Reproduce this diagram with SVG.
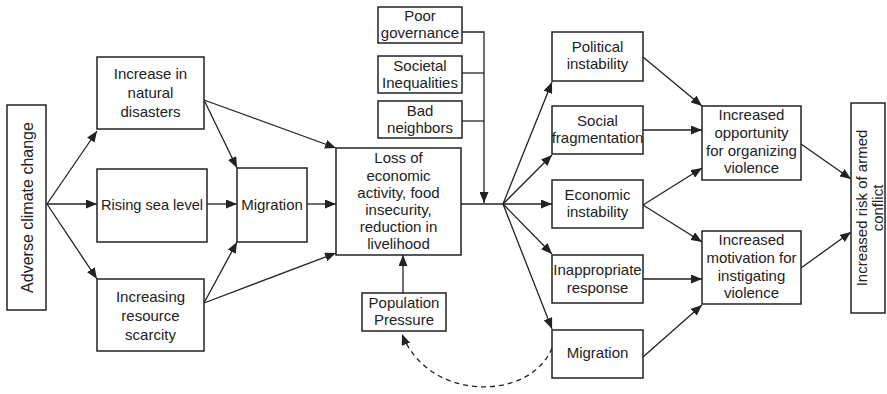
<svg xmlns="http://www.w3.org/2000/svg" width="887" height="394" viewBox="0 0 887 394">
  <style>
    .box { fill: #fff; stroke: #222; stroke-width: 1.5; }
    .lbl { font-family: "Liberation Sans", Arial, sans-serif; font-size: 15px; fill: #222; text-anchor: middle; }
    .edge { fill: none; stroke: #222; stroke-width: 1.3; }
    .arr { marker-end: url(#head); }
    .dash { stroke-dasharray: 5 4; }
  </style>
  <defs>
    <marker id="head" markerUnits="userSpaceOnUse" markerWidth="11" markerHeight="9" refX="11" refY="4.5" orient="auto">
      <path d="M0,0 L11,4.5 L0,9 z" fill="#222"/>
    </marker>
  </defs>
  <rect width="887" height="394" fill="#fff"/>

  <g id="connectors">
    <line class="edge arr" x1="47" y1="204" x2="97" y2="131"/>
    <line class="edge arr" x1="47" y1="204" x2="97" y2="204"/>
    <line class="edge arr" x1="47" y1="204" x2="97" y2="279"/>
    <line class="edge arr" x1="204" y1="100" x2="237" y2="168"/>
    <line class="edge arr" x1="204" y1="100" x2="336" y2="148"/>
    <line class="edge arr" x1="207" y1="204" x2="237" y2="204"/>
    <line class="edge arr" x1="307" y1="204" x2="336" y2="204"/>
    <line class="edge arr" x1="204" y1="303" x2="237" y2="242"/>
    <line class="edge arr" x1="204" y1="303" x2="336" y2="253"/>
    <polyline class="edge arr" points="462,32 484,32 484,203"/>
    <line class="edge" x1="462" y1="73" x2="484" y2="73"/>
    <line class="edge" x1="462" y1="121" x2="484" y2="121"/>
    <line class="edge" x1="461" y1="204" x2="503" y2="204"/>
    <line class="edge arr" x1="503" y1="204" x2="552" y2="82"/>
    <line class="edge arr" x1="503" y1="204" x2="552" y2="155"/>
    <line class="edge arr" x1="503" y1="204" x2="552" y2="204"/>
    <line class="edge arr" x1="503" y1="204" x2="552" y2="254"/>
    <line class="edge arr" x1="503" y1="204" x2="552" y2="329"/>
    <line class="edge arr" x1="403" y1="293" x2="403" y2="255"/>
    <path class="edge dash arr" d="M552,348 C530,402 428,402 402,334"/>
    <line class="edge arr" x1="643" y1="57" x2="702" y2="106"/>
    <line class="edge arr" x1="643" y1="130" x2="702" y2="130"/>
    <line class="edge arr" x1="643" y1="205" x2="702" y2="168"/>
    <line class="edge arr" x1="643" y1="205" x2="702" y2="242"/>
    <line class="edge arr" x1="643" y1="279" x2="702" y2="279"/>
    <line class="edge arr" x1="643" y1="357" x2="702" y2="305"/>
    <line class="edge arr" x1="801" y1="144" x2="851" y2="179"/>
    <line class="edge arr" x1="801" y1="268" x2="851" y2="232"/>
  </g>

  <g id="adverse-climate-change">
    <rect class="box" x="7" y="105" width="39" height="205"/>
    <text class="lbl" style="font-size:16px" transform="translate(32.5,207.5) rotate(-90)">Adverse climate change</text>
  </g>

  <g id="natural-disasters">
    <rect class="box" x="97" y="57" width="107" height="72"/>
    <text class="lbl" x="150.5" y="79">Increase in</text>
    <text class="lbl" x="150.5" y="98">natural</text>
    <text class="lbl" x="150.5" y="117">disasters</text>
  </g>

  <g id="sea-level">
    <rect class="box" x="97" y="169" width="110" height="73"/>
    <text class="lbl" style="font-size:14.6px" x="152" y="210">Rising sea level</text>
  </g>

  <g id="resource-scarcity">
    <rect class="box" x="97" y="279" width="107" height="72"/>
    <text class="lbl" x="150.5" y="302">Increasing</text>
    <text class="lbl" x="150.5" y="321">resource</text>
    <text class="lbl" x="150.5" y="340">scarcity</text>
  </g>

  <g id="migration-in">
    <rect class="box" x="237" y="168" width="70" height="74"/>
    <text class="lbl" x="272" y="210">Migration</text>
  </g>

  <g id="poor-governance">
    <rect class="box" x="378" y="7" width="84" height="36"/>
    <text class="lbl" x="420" y="21">Poor</text>
    <text class="lbl" x="420" y="38">governance</text>
  </g>

  <g id="societal-inequalities">
    <rect class="box" x="378" y="56" width="84" height="37"/>
    <text class="lbl" x="420" y="71">Societal</text>
    <text class="lbl" x="420" y="88">Inequalities</text>
  </g>

  <g id="bad-neighbors">
    <rect class="box" x="378" y="101" width="84" height="37"/>
    <text class="lbl" x="420" y="116">Bad</text>
    <text class="lbl" x="420" y="133">neighbors</text>
  </g>

  <g id="loss-of-livelihood">
    <rect class="box" x="336" y="148" width="125" height="107"/>
    <text class="lbl" x="398.5" y="163">Loss of</text>
    <text class="lbl" x="398.5" y="180.5">economic</text>
    <text class="lbl" x="398.5" y="197.5">activity, food</text>
    <text class="lbl" x="398.5" y="214.5">insecurity,</text>
    <text class="lbl" x="398.5" y="232">reduction in</text>
    <text class="lbl" x="398.5" y="249">livelihood</text>
  </g>

  <g id="population-pressure">
    <rect class="box" x="362" y="293" width="84" height="38"/>
    <text class="lbl" x="404" y="308">Population</text>
    <text class="lbl" x="404" y="325">Pressure</text>
  </g>

  <g id="political-instability">
    <rect class="box" x="552" y="32" width="91" height="49"/>
    <text class="lbl" x="597.5" y="52">Political</text>
    <text class="lbl" x="597.5" y="69">instability</text>
  </g>

  <g id="social-fragmentation">
    <rect class="box" x="552" y="106" width="91" height="48"/>
    <text class="lbl" x="597.5" y="126">Social</text>
    <text class="lbl" x="597.5" y="143">fragmentation</text>
  </g>

  <g id="economic-instability">
    <rect class="box" x="552" y="180" width="91" height="48"/>
    <text class="lbl" x="597.5" y="200">Economic</text>
    <text class="lbl" x="597.5" y="217">instability</text>
  </g>

  <g id="inappropriate-response">
    <rect class="box" x="552" y="255" width="91" height="48"/>
    <text class="lbl" x="597.5" y="275">Inappropriate</text>
    <text class="lbl" x="597.5" y="293">response</text>
  </g>

  <g id="migration-out">
    <rect class="box" x="552" y="330" width="91" height="48"/>
    <text class="lbl" x="597.5" y="358">Migration</text>
  </g>

  <g id="opportunity-violence">
    <rect class="box" x="702" y="106" width="99" height="74"/>
    <text class="lbl" x="751.5" y="120">Increased</text>
    <text class="lbl" x="751.5" y="138">opportunity</text>
    <text class="lbl" x="751.5" y="156">for organizing</text>
    <text class="lbl" x="751.5" y="173">violence</text>
  </g>

  <g id="motivation-violence">
    <rect class="box" x="702" y="231" width="99" height="73"/>
    <text class="lbl" x="751.5" y="245">Increased</text>
    <text class="lbl" x="751.5" y="263">motivation for</text>
    <text class="lbl" x="751.5" y="281">instigating</text>
    <text class="lbl" x="751.5" y="298">violence</text>
  </g>

  <g id="armed-conflict-risk">
    <rect class="box" x="851" y="103" width="34" height="210"/>
    <text class="lbl" transform="translate(867,208) rotate(-90)">Increased risk of armed</text>
    <text class="lbl" transform="translate(883,208) rotate(-90)">conflict</text>
  </g>
</svg>
